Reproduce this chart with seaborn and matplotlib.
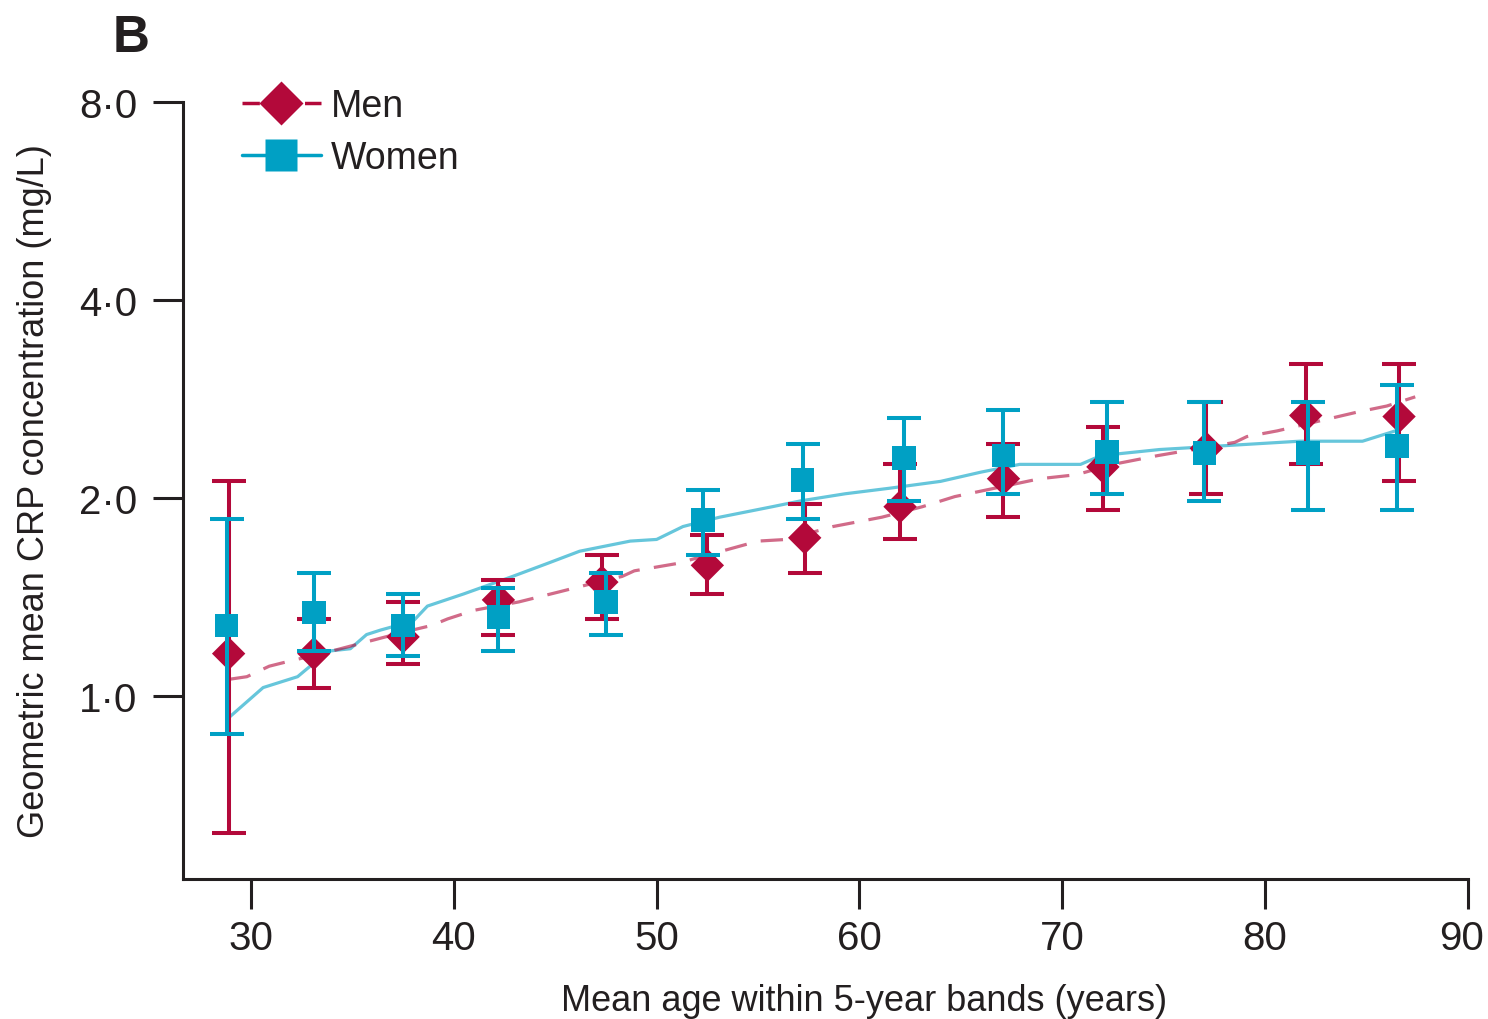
import matplotlib
matplotlib.use("Agg")
import matplotlib.pyplot as plt
import matplotlib.transforms as mtransforms
import numpy as np
import seaborn as sns
from matplotlib.lines import Line2D
from matplotlib.ticker import FixedLocator, FixedFormatter, NullLocator

# Geometric mean CRP (mg/L) with 95% CI by mean age in 5-year bands
men_age = [28.9, 33.1, 37.5, 42.2, 47.3, 52.5, 57.3, 62.0, 67.1, 72.0, 77.1, 82.0, 86.6]
men_crp = [1.16, 1.16, 1.23, 1.40, 1.49, 1.58, 1.74, 1.94, 2.14, 2.23, 2.38, 2.67, 2.66]
men_lo = [0.62, 1.03, 1.12, 1.24, 1.31, 1.43, 1.54, 1.73, 1.87, 1.92, 2.03, 2.25, 2.12]
men_hi = [2.12, 1.31, 1.39, 1.50, 1.64, 1.76, 1.96, 2.25, 2.42, 2.56, 2.80, 3.20, 3.20]

women_age = [28.8, 33.1, 37.5, 42.2, 47.5, 52.3, 57.2, 62.2, 67.1, 72.2, 77.0, 82.1, 86.5]
women_crp = [1.28, 1.34, 1.28, 1.32, 1.39, 1.85, 2.13, 2.30, 2.32, 2.35, 2.34, 2.34, 2.40]
women_lo = [0.875, 1.17, 1.15, 1.17, 1.24, 1.64, 1.86, 1.98, 2.03, 2.03, 1.98, 1.92, 1.92]
women_hi = [1.86, 1.54, 1.43, 1.46, 1.54, 2.06, 2.42, 2.65, 2.72, 2.80, 2.80, 2.80, 2.97]

# Fitted trend lines
men_fit_age = [28.9, 29.8, 30.9, 31.9, 33.5, 37.5, 38.9, 39.7, 41.0, 43.2, 45.2, 47.1,
               48.3, 48.9, 51.0, 55.0, 56.4, 58.7, 61.1, 63.1, 64.7, 68.9, 70.7, 72.5,
               74.7, 78.5, 79.1, 80.6, 84.5, 86.0, 87.4]
men_fit_crp = [1.06, 1.07, 1.11, 1.13, 1.16, 1.25, 1.28, 1.31, 1.35, 1.39, 1.44, 1.49,
               1.52, 1.55, 1.59, 1.72, 1.73, 1.81, 1.87, 1.94, 2.01, 2.14, 2.17, 2.25,
               2.32, 2.43, 2.48, 2.53, 2.70, 2.76, 2.85]

women_fit_age = [28.96, 30.6, 32.3, 33.8, 34.9, 35.7, 36.4, 38.0, 38.7, 40.5, 42.9,
                 44.6, 46.2, 48.7, 50.0, 51.3, 53.1, 55.7, 57.1, 59.3, 61.5, 64.0,
                 66.0, 67.9, 70.9, 71.9, 74.8, 77.8, 81.7, 84.8, 86.6]
women_fit_crp = [0.93, 1.03, 1.07, 1.17, 1.18, 1.24, 1.26, 1.30, 1.37, 1.43, 1.52,
                 1.59, 1.66, 1.72, 1.73, 1.81, 1.87, 1.94, 1.98, 2.03, 2.07, 2.12,
                 2.19, 2.25, 2.25, 2.32, 2.37, 2.40, 2.44, 2.44, 2.54]

y_ticks = [1.0, 2.0, 4.0, 8.0]
y_ticklabels = ["1·0", "2·0", "4·0", "8·0"]
x_ticks = [30, 40, 50, 60, 70, 80, 90]
x_ticklabels = ["30", "40", "50", "60", "70", "80", "90"]

sns.set_theme(style="ticks")
plt.rcParams["font.family"] = ["Liberation Sans", "DejaVu Sans"]

RED = "#B3093A"
BLUE = "#00A0C4"
INK = "#231F20"

fig = plt.figure(figsize=(14.88, 10.2), dpi=100)
ax = fig.add_axes([183 / 1488, 1 - 880 / 1020, (1468 - 183) / 1488, (880 - 103) / 1020])
ax.set_yscale("log", base=2)

# trend lines
sns.lineplot(x=women_fit_age, y=women_fit_crp, ax=ax, color=BLUE, lw=2.3, alpha=0.6,
             sort=False, estimator=None, zorder=2)
sns.lineplot(x=men_fit_age, y=men_fit_crp, ax=ax, color=RED, lw=2.3, alpha=0.6,
             sort=False, estimator=None, linestyle=(0, (7, 4.5)), zorder=2)

# group estimates with confidence intervals
m = np.array(men_crp)
ax.errorbar(men_age, men_crp, yerr=[m - np.array(men_lo), np.array(men_hi) - m],
            fmt="none", ecolor=RED, elinewidth=2.9, capsize=12, capthick=2.9, zorder=3)
sns.scatterplot(x=men_age, y=men_crp, ax=ax, marker="D", s=17 ** 2, color=RED,
                edgecolor="none", linewidth=0, zorder=4)

w = np.array(women_crp)
ax.errorbar(women_age, women_crp, yerr=[w - np.array(women_lo), np.array(women_hi) - w],
            fmt="none", ecolor=BLUE, elinewidth=2.9, capsize=12, capthick=2.9, zorder=5)
sns.scatterplot(x=women_age, y=women_crp, ax=ax, marker="s", s=17 ** 2, color=BLUE,
                edgecolor="none", linewidth=0, zorder=6)

ax.set_xlim(26.65, 90)
ax.set_ylim(0.527, 8.0)

ax.yaxis.set_major_locator(FixedLocator(y_ticks))
ax.yaxis.set_major_formatter(FixedFormatter(y_ticklabels))
ax.yaxis.set_minor_locator(NullLocator())
ax.xaxis.set_major_locator(FixedLocator(x_ticks))
ax.xaxis.set_major_formatter(FixedFormatter(x_ticklabels))

for side in ("top", "right"):
    ax.spines[side].set_visible(False)
for side in ("left", "bottom"):
    ax.spines[side].set_linewidth(2.2)
    ax.spines[side].set_color(INK)

ax.tick_params(axis="both", which="major", direction="out", length=21.6, width=2.2,
               color=INK, labelcolor=INK, labelsize=29)
ax.tick_params(axis="x", pad=7)
ax.tick_params(axis="y", pad=11)

# keep the last x tick label inside the canvas
last = ax.get_xticklabels()[-1]
last.set_transform(last.get_transform()
                   + mtransforms.ScaledTranslation(-6 / 100, 0, fig.dpi_scale_trans))

ax.set_xlabel("Mean age within 5-year bands (years)", fontsize=26, color=INK, labelpad=16)
ax.xaxis.set_label_coords((864 - 183) / 1285, -0.134)
ax.set_ylabel("Geometric mean CRP concentration (mg/L)", fontsize=26, color=INK, labelpad=20)

handles = [
    Line2D([], [], color=RED, lw=2.5, linestyle=(0, (5, 4)), marker="D", markersize=22,
           markerfacecolor=RED, markeredgecolor="none"),
    Line2D([], [], color=BLUE, lw=2.5, marker="s", markersize=23,
           markerfacecolor=BLUE, markeredgecolor="none"),
]
ax.legend(handles, ["Men", "Women"], loc="upper left",
          bbox_to_anchor=(242 / 1488, 1 - 89 / 1020), bbox_transform=fig.transFigure,
          frameon=False, fontsize=27, handlelength=2.1, handletextpad=0.27,
          labelspacing=0.42, borderpad=0, borderaxespad=0, labelcolor=INK)

fig.text(113 / 1488, 1 - 52 / 1020, "B", fontsize=37, fontweight="bold", color=INK,
         ha="left", va="baseline")

fig.savefig("out.png", dpi=100)
